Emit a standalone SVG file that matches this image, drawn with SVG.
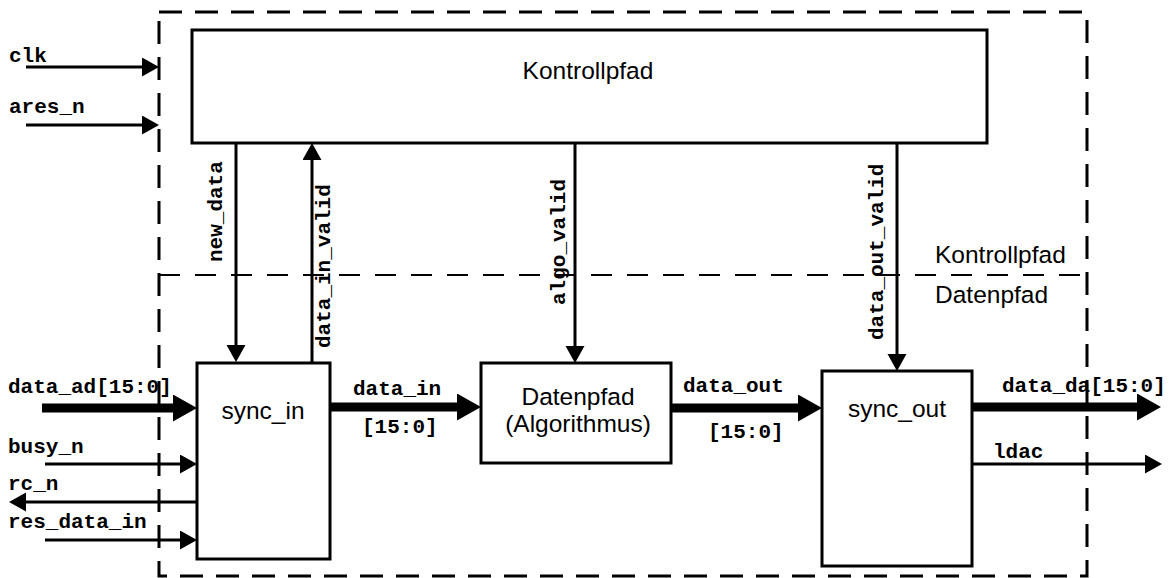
<svg xmlns="http://www.w3.org/2000/svg" width="1172" height="578" viewBox="0 0 1172 578">
  <style>
    .box { fill: #ffffff; stroke: #000000; stroke-width: 3; }
    .frame { fill: none; stroke: #000000; stroke-width: 3; stroke-dasharray: 23 13; }
    .divider { fill: none; stroke: #000000; stroke-width: 2; stroke-dasharray: 21 15; }
    .sig { fill: none; stroke: #000000; stroke-width: 3; }
    .bus { fill: none; stroke: #000000; stroke-width: 9; }
    .mono { font-family: "Liberation Mono", "Courier New", monospace; font-weight: bold; font-size: 21px; fill: #000000; }
    .sans { font-family: "Liberation Sans", Arial, sans-serif; font-size: 24.5px; fill: #000000; }
    .mid { text-anchor: middle; }
  </style>
  <defs>
    <marker id="arr" markerUnits="userSpaceOnUse" markerWidth="18" markerHeight="20" refX="0" refY="9.5" orient="auto">
      <path d="M0,0 L17,9.5 L0,19 z" fill="#000000"/>
    </marker>
    <marker id="busarr" markerUnits="userSpaceOnUse" markerWidth="25" markerHeight="28" refX="0" refY="13.5" orient="auto">
      <path d="M0,0 L24,13.5 L0,27 z" fill="#000000"/>
    </marker>
  </defs>

  <!-- system boundary and control/data split -->
  <g id="frame">
    <rect class="frame" x="159" y="12" width="928" height="564"/>
    <line class="divider" x1="159" y1="275" x2="1087" y2="275"/>
    <text class="sans" x="935" y="263">Kontrollpfad</text>
    <text class="sans" x="935" y="303">Datenpfad</text>
  </g>

  <g id="kontrollpfad">
    <rect class="box" x="192" y="30" width="795" height="113"/>
    <text class="sans mid" x="588" y="79">Kontrollpfad</text>
  </g>

  <g id="sync_in">
    <rect class="box" x="197" y="363" width="133" height="196"/>
    <text class="sans mid" x="263" y="419">sync_in</text>
  </g>

  <g id="datenpfad">
    <rect class="box" x="481" y="363" width="190" height="100"/>
    <text class="sans mid" x="578" y="405">Datenpfad</text>
    <text class="sans mid" x="578" y="432">(Algorithmus)</text>
  </g>

  <g id="sync_out">
    <rect class="box" x="822" y="371" width="150" height="195"/>
    <text class="sans mid" x="897" y="417">sync_out</text>
  </g>

  <g id="connectors">
    <!-- control inputs -->
    <line class="sig" x1="26" y1="67" x2="142" y2="67" marker-end="url(#arr)"/>
    <line class="sig" x1="26" y1="125" x2="142" y2="125" marker-end="url(#arr)"/>
    <!-- handshakes between control path and data path -->
    <line class="sig" x1="236" y1="143" x2="236" y2="345" marker-end="url(#arr)"/>
    <line class="sig" x1="312" y1="363" x2="312" y2="160" marker-end="url(#arr)"/>
    <line class="sig" x1="575" y1="143" x2="575" y2="346" marker-end="url(#arr)"/>
    <line class="sig" x1="897" y1="143" x2="897" y2="354" marker-end="url(#arr)"/>
    <!-- 16-bit buses -->
    <line class="bus" x1="42" y1="408" x2="173" y2="408" marker-end="url(#busarr)"/>
    <line class="bus" x1="330" y1="407" x2="457" y2="407" marker-end="url(#busarr)"/>
    <line class="bus" x1="671" y1="408" x2="798" y2="408" marker-end="url(#busarr)"/>
    <line class="bus" x1="972" y1="407" x2="1137" y2="407" marker-end="url(#busarr)"/>
    <!-- ADC / DAC control lines -->
    <line class="sig" x1="45" y1="464" x2="180" y2="464" marker-end="url(#arr)"/>
    <line class="sig" x1="197" y1="502" x2="26" y2="502" marker-end="url(#arr)"/>
    <line class="sig" x1="45" y1="540" x2="180" y2="540" marker-end="url(#arr)"/>
    <line class="sig" x1="972" y1="464" x2="1145" y2="464" marker-end="url(#arr)"/>
  </g>

  <g id="labels">
    <text class="mono" x="9" y="62">clk</text>
    <text class="mono" x="9" y="113">ares_n</text>
    <text class="mono" x="8" y="393">data_ad[15:0]</text>
    <text class="mono" x="8" y="453">busy_n</text>
    <text class="mono" x="8" y="490">rc_n</text>
    <text class="mono" x="8" y="528">res_data_in</text>
    <text class="mono" x="353" y="395">data_in</text>
    <text class="mono" x="362" y="433">[15:0]</text>
    <text class="mono" x="683" y="392">data_out</text>
    <text class="mono" x="708" y="438">[15:0]</text>
    <text class="mono" x="1002" y="392">data_da[15:0]</text>
    <text class="mono" x="993" y="458">ldac</text>
    <text class="mono" transform="translate(222,262) rotate(-90)">new_data</text>
    <text class="mono" transform="translate(330,348) rotate(-90)">data_in_valid</text>
    <text class="mono" transform="translate(565,305) rotate(-90)">algo_valid</text>
    <text class="mono" transform="translate(883,340) rotate(-90)">data_out_valid</text>
  </g>
</svg>
